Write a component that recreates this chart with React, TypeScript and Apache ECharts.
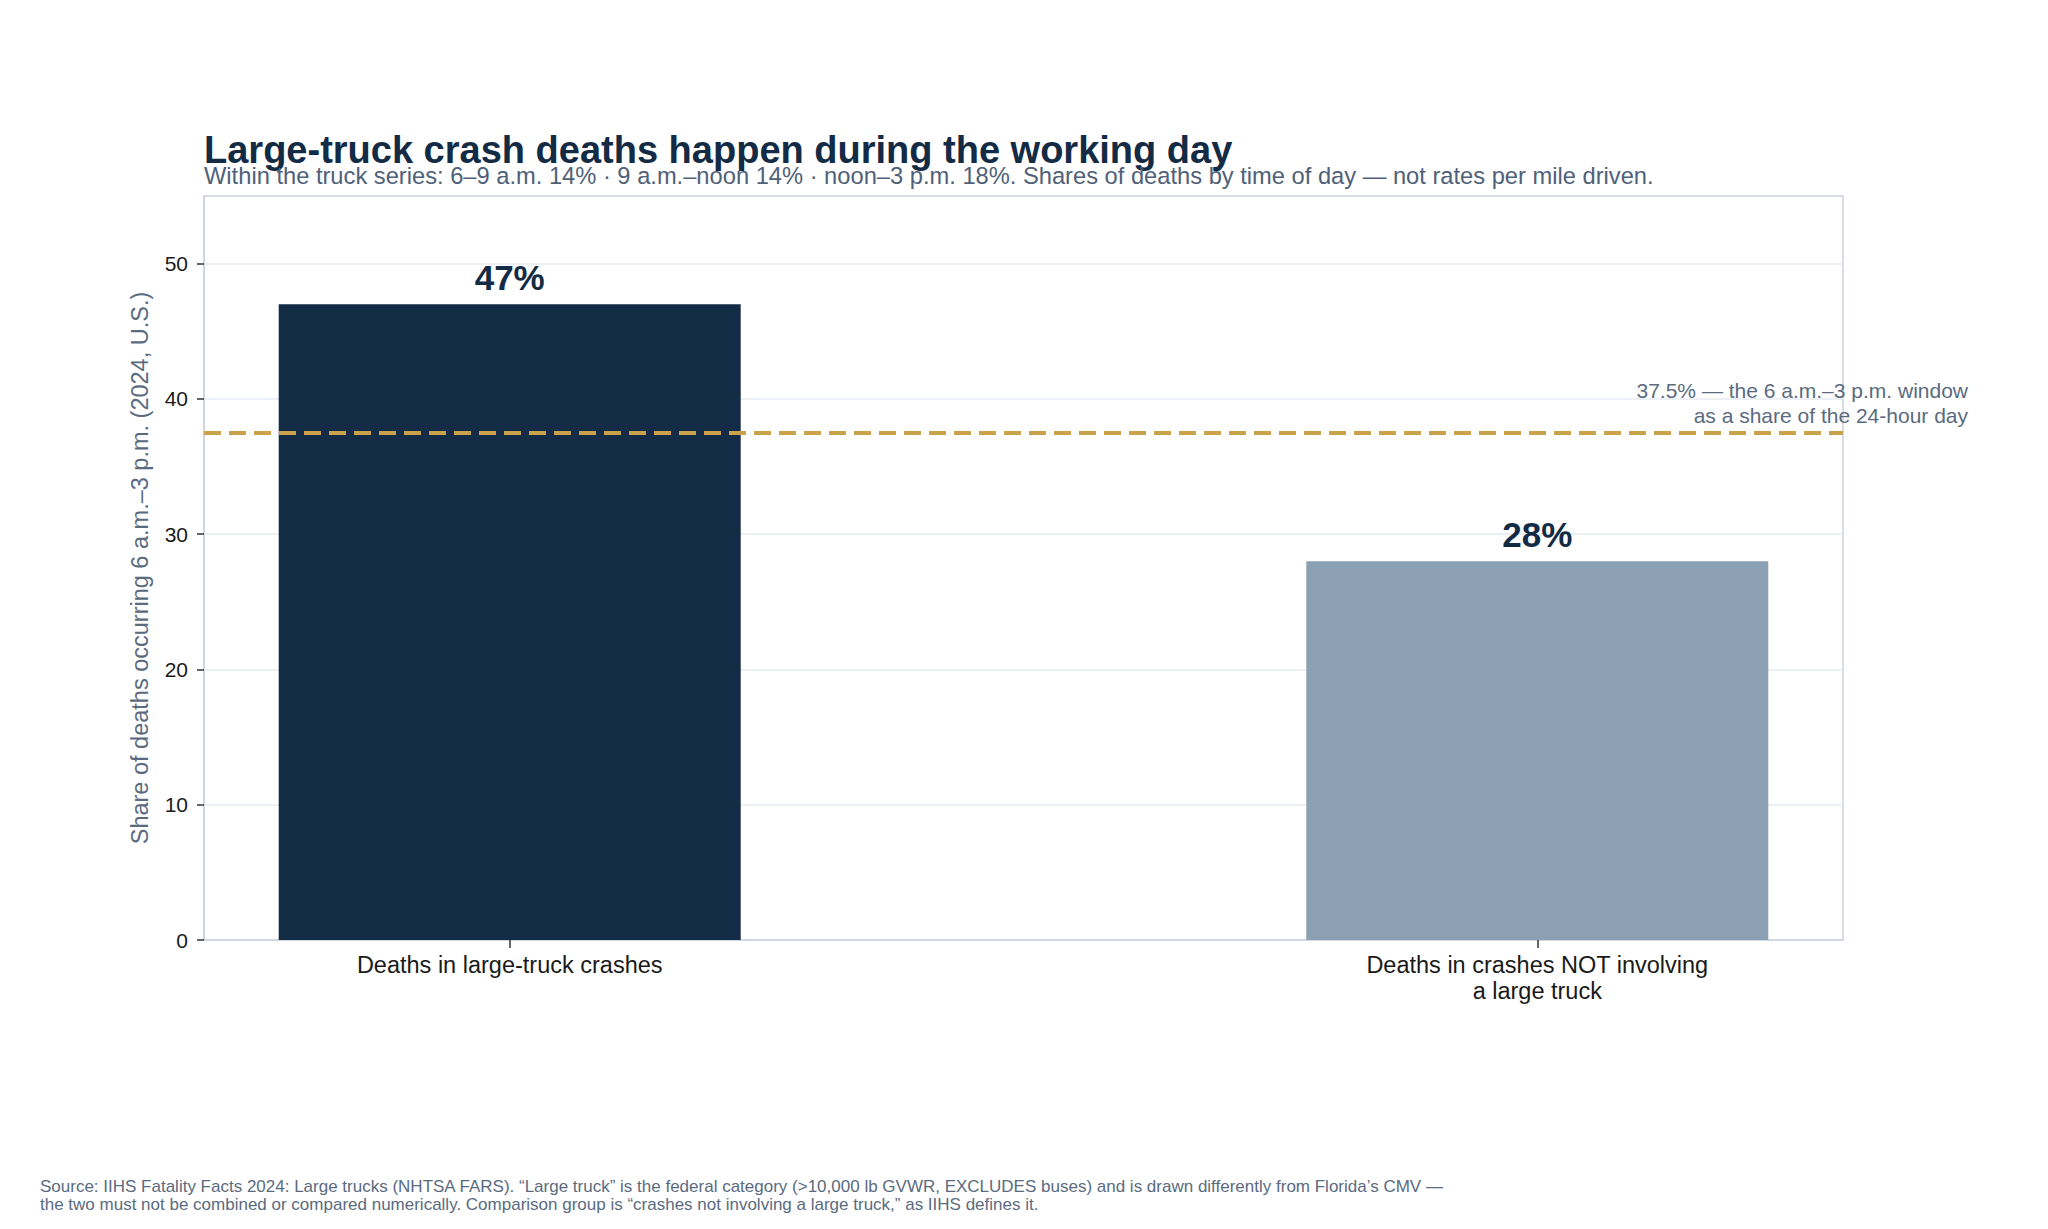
import React, { useEffect, useRef } from "react";
import * as echarts from "echarts";

// data
const categories = [
  "Deaths in large-truck crashes",
  "Deaths in crashes NOT involving\na large truck",
];
const shares = [47, 28];
const referenceShare = 37.5;
const yTicks = [0, 10, 20, 30, 40, 50];

const barColors = ["#132b45", "#8ca0b3"];
const FONT = "Liberation Sans, Arial, sans-serif";

const App: React.FC = () => {
  const chartRef = useRef<HTMLDivElement>(null);

  useEffect(() => {
    document.body.style.margin = "0";
    if (!chartRef.current) return;
    const chart = echarts.init(chartRef.current, undefined, { renderer: "svg" });
    const option = {
      animation: false,
      backgroundColor: "#ffffff",
      textStyle: { fontFamily: FONT },
      grid: {
        left: 204,
        right: 205,
        top: 196,
        bottom: 289,
        show: true,
        borderColor: "#cbd2dc",
        borderWidth: 1.5,
        backgroundColor: "transparent",
      },
      xAxis: {
        type: "value",
        min: -0.2975,
        max: 1.2975,
        splitLine: { show: false },
        axisLine: { show: true, onZero: false, lineStyle: { color: "#cbd2dc", width: 1.5 } },
        axisTick: {
          show: true,
          customValues: [0, 1],
          length: 8,
          lineStyle: { color: "#333333", width: 1.5 },
        },
        axisLabel: {
          customValues: [0, 1],
          formatter: (v: number) => categories[Math.round(v)] ?? "",
          fontSize: 23.5,
          lineHeight: 26,
          color: "#1a1a1a",
          margin: 12,
          fontFamily: FONT,
        },
      },
      yAxis: {
        type: "value",
        min: yTicks[0],
        max: 55,
        interval: 10,
        name: "Share of deaths occurring 6 a.m.–3 p.m. (2024, U.S.)",
        nameLocation: "middle",
        nameRotate: 90,
        nameGap: 52,
        nameTextStyle: { fontSize: 23.5, color: "#5a6b80", fontFamily: FONT },
        axisLine: { show: true, onZero: false, lineStyle: { color: "#cbd2dc", width: 1.5 } },
        axisTick: {
          show: true,
          customValues: yTicks,
          length: 7,
          lineStyle: { color: "#333333", width: 1.5 },
        },
        axisLabel: {
          customValues: yTicks,
          fontSize: 21,
          color: "#1a1a1a",
          margin: 16,
          fontFamily: FONT,
        },
        splitLine: { show: true, lineStyle: { color: "#e6eaf0", width: 1.5 } },
      },
      series: [
        {
          type: "bar",
          barWidth: 462,
          data: shares.map((s, i) => ({
            value: [i, s],
            itemStyle: { color: barColors[i] },
          })),
          label: {
            show: true,
            position: "top",
            distance: 9,
            formatter: (p: any) => `${p.value[1]}%`,
            fontSize: 35,
            fontWeight: "bold",
            color: "#132b45",
            fontFamily: FONT,
          },
          markLine: {
            silent: true,
            symbol: "none",
            label: { show: false },
            lineStyle: { color: "#cba24c", width: 4, type: [17, 8] },
            data: [{ yAxis: referenceShare }],
          },
          z: 2,
        },
      ],
      graphic: [
        {
          type: "text",
          x: 204,
          y: 150,
          style: {
            text: "Large-truck crash deaths happen during the working day",
            font: `bold 38px ${FONT}`,
            fill: "#132b45",
            verticalAlign: "middle",
          },
        },
        {
          type: "text",
          x: 204,
          y: 176,
          style: {
            text:
              "Within the truck series: 6–9 a.m. 14% · 9 a.m.–noon 14% · noon–3 p.m. 18%. Shares of deaths by time of day — not rates per mile driven.",
            font: `23.7px ${FONT}`,
            fill: "#4f6178",
            verticalAlign: "middle",
          },
        },
        {
          type: "text",
          x: 1968,
          y: 378,
          z: 10,
          style: {
            text: "37.5% — the 6 a.m.–3 p.m. window\nas a share of the 24-hour day",
            font: `21px ${FONT}`,
            lineHeight: 25,
            fill: "#5a6b80",
            align: "right",
            verticalAlign: "top",
          },
        },
        {
          type: "text",
          x: 40,
          y: 1177,
          style: {
            text:
              "Source: IIHS Fatality Facts 2024: Large trucks (NHTSA FARS). “Large truck” is the federal category (>10,000 lb GVWR, EXCLUDES buses) and is drawn differently from Florida’s CMV —\nthe two must not be combined or compared numerically. Comparison group is “crashes not involving a large truck,” as IIHS defines it.",
            font: `17px ${FONT}`,
            lineHeight: 18.5,
            fill: "#5a6b80",
            verticalAlign: "top",
          },
        },
      ],
    };
    chart.setOption(option);
    return () => chart.dispose();
  }, []);

  return (
    <div
      ref={chartRef}
      style={{ position: "absolute", left: 0, top: 0, width: "2048px", height: "1229px" }}
    ></div>
  );
};

export default App;
